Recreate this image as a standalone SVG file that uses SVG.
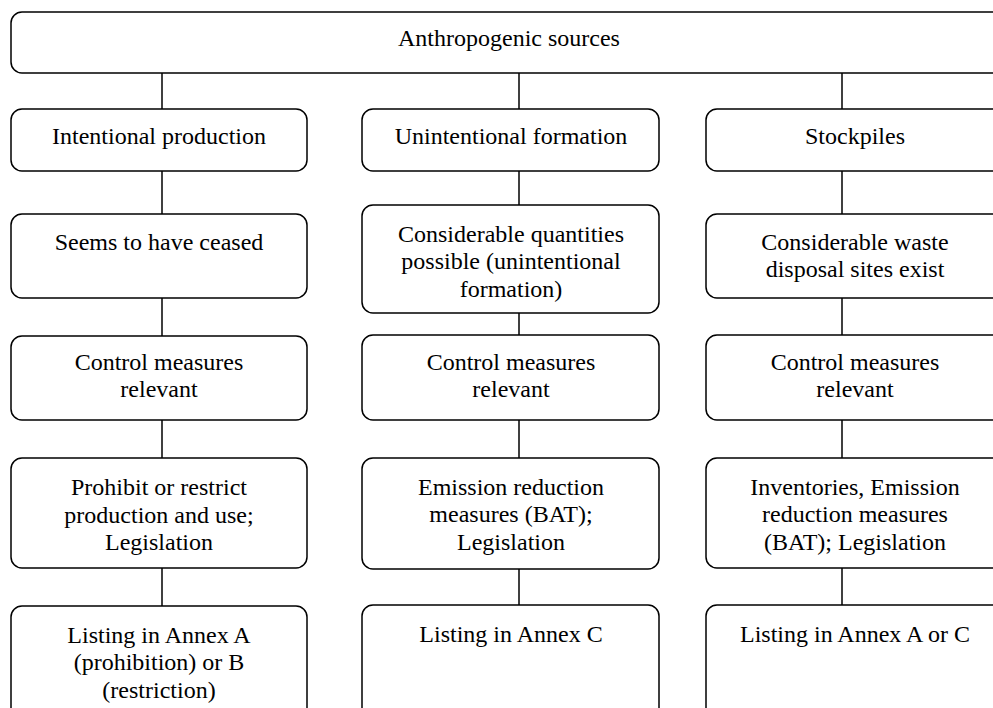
<svg xmlns="http://www.w3.org/2000/svg" width="993" height="708" viewBox="0 0 993 708">
<style>
.box{fill:#fff;stroke:#000;stroke-width:1.5}
.t{font-family:'Liberation Serif','Times New Roman',serif;font-size:24px;fill:#000;text-anchor:middle}
.c{stroke:#000;stroke-width:1.5;fill:none}
</style>
<rect width="993" height="708" fill="#fff"/>
<g id="connectors">
<line class="c" x1="162" y1="73" x2="162" y2="109"/>
<line class="c" x1="519" y1="73" x2="519" y2="109"/>
<line class="c" x1="842" y1="73" x2="842" y2="109"/>
<line class="c" x1="162" y1="171" x2="162" y2="214"/>
<line class="c" x1="519" y1="171" x2="519" y2="205"/>
<line class="c" x1="842" y1="171" x2="842" y2="214"/>
<line class="c" x1="162" y1="298" x2="162" y2="336"/>
<line class="c" x1="519" y1="313" x2="519" y2="335"/>
<line class="c" x1="842" y1="298" x2="842" y2="335"/>
<line class="c" x1="162" y1="420" x2="162" y2="458"/>
<line class="c" x1="519" y1="420" x2="519" y2="458"/>
<line class="c" x1="842" y1="420" x2="842" y2="458"/>
<line class="c" x1="162" y1="568" x2="162" y2="606"/>
<line class="c" x1="519" y1="569" x2="519" y2="605"/>
<line class="c" x1="842" y1="568" x2="842" y2="605"/>
</g>
<g id="anthropogenic">
<rect class="box" x="11" y="12" width="995" height="61" rx="11"/>
<text class="t" x="509" y="46">Anthropogenic sources</text>
</g>
<g id="intentional">
<rect class="box" x="11" y="109" width="296" height="62" rx="11"/>
<text class="t" x="159" y="144">Intentional production</text>
</g>
<g id="unintentional">
<rect class="box" x="362" y="109" width="297" height="62" rx="11"/>
<text class="t" x="511" y="144">Unintentional formation</text>
</g>
<g id="stockpiles">
<rect class="box" x="706" y="109" width="297" height="62" rx="11"/>
<text class="t" x="855" y="144">Stockpiles</text>
</g>
<g id="ceased">
<rect class="box" x="11" y="214" width="296" height="84" rx="11"/>
<text class="t" x="159" y="250">Seems to have ceased</text>
</g>
<g id="quantities">
<rect class="box" x="362" y="205" width="297" height="108" rx="11"/>
<text class="t" x="511" y="242">Considerable quantities</text>
<text class="t" x="511" y="269">possible (unintentional</text>
<text class="t" x="511" y="297">formation)</text>
</g>
<g id="waste">
<rect class="box" x="706" y="214" width="297" height="84" rx="11"/>
<text class="t" x="855" y="250">Considerable waste</text>
<text class="t" x="855" y="277">disposal sites exist</text>
</g>
<g id="control1">
<rect class="box" x="11" y="336" width="296" height="84" rx="11"/>
<text class="t" x="159" y="370">Control measures</text>
<text class="t" x="159" y="397">relevant</text>
</g>
<g id="control2">
<rect class="box" x="362" y="335" width="297" height="85" rx="11"/>
<text class="t" x="511" y="370">Control measures</text>
<text class="t" x="511" y="397">relevant</text>
</g>
<g id="control3">
<rect class="box" x="706" y="335" width="297" height="85" rx="11"/>
<text class="t" x="855" y="370">Control measures</text>
<text class="t" x="855" y="397">relevant</text>
</g>
<g id="prohibit">
<rect class="box" x="11" y="458" width="296" height="110" rx="11"/>
<text class="t" x="159" y="495">Prohibit or restrict</text>
<text class="t" x="159" y="523">production and use;</text>
<text class="t" x="159" y="550">Legislation</text>
</g>
<g id="emission">
<rect class="box" x="362" y="458" width="297" height="111" rx="11"/>
<text class="t" x="511" y="495">Emission reduction</text>
<text class="t" x="511" y="522">measures (BAT);</text>
<text class="t" x="511" y="550">Legislation</text>
</g>
<g id="inventories">
<rect class="box" x="706" y="458" width="297" height="110" rx="11"/>
<text class="t" x="855" y="495">Inventories, Emission</text>
<text class="t" x="855" y="522">reduction measures</text>
<text class="t" x="855" y="550">(BAT); Legislation</text>
</g>
<g id="annexAB">
<rect class="box" x="11" y="606" width="296" height="120" rx="11"/>
<text class="t" x="159" y="643">Listing in Annex A</text>
<text class="t" x="159" y="670">(prohibition) or B</text>
<text class="t" x="159" y="698">(restriction)</text>
</g>
<g id="annexC">
<rect class="box" x="362" y="605" width="297" height="121" rx="11"/>
<text class="t" x="511" y="642">Listing in Annex C</text>
</g>
<g id="annexAC">
<rect class="box" x="706" y="605" width="297" height="121" rx="11"/>
<text class="t" x="855" y="642">Listing in Annex A or C</text>
</g>
</svg>
